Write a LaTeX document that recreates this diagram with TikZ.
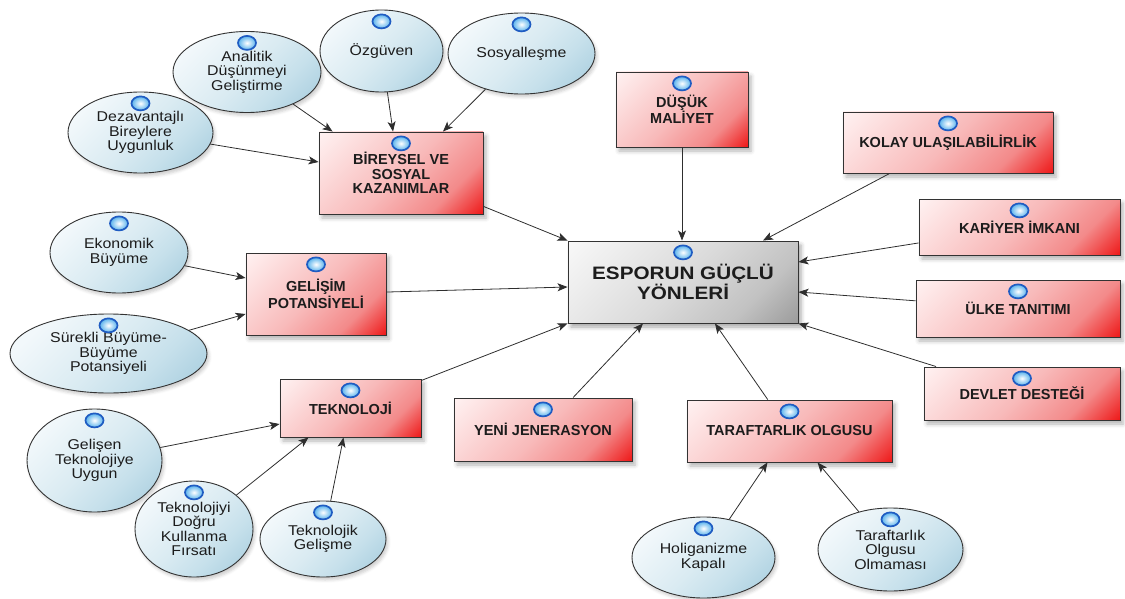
\documentclass[tikz,border=0pt]{standalone}
\usepackage{fontspec}
\setmainfont{Liberation Sans}
\newfontfamily\ovalfont[FakeStretch=1.12]{Liberation Sans}
\newfontfamily\hubfont[FakeStretch=1.15]{Liberation Sans}
\usetikzlibrary{arrows.meta, positioning, shapes.geometric, shadows.blur}
\definecolor{redA}{HTML}{FFF1F1}
\definecolor{redB}{HTML}{F8BABA}
\definecolor{redC}{HTML}{F38A8A}
\definecolor{redD}{HTML}{EE1414}
\definecolor{grayA}{HTML}{F8F8F8}
\definecolor{grayB}{HTML}{DADADA}
\definecolor{grayC}{HTML}{C2C2C2}
\definecolor{grayD}{HTML}{9A9A9A}
\definecolor{blueA}{HTML}{F2F8FB}
\definecolor{blueB}{HTML}{DAEBF2}
\definecolor{blueC}{HTML}{C6E0EB}
\definecolor{blueD}{HTML}{ACD0E0}
\definecolor{edgegray}{HTML}{333333}
\definecolor{linegray}{HTML}{2E2E2E}
\definecolor{bulbring}{HTML}{1F5CC2}
\definecolor{bulbfill}{HTML}{58B2EC}
\definecolor{textdark}{HTML}{1C1C1C}

\pgfdeclarehorizontalshading{boxred}{100bp}{color(0bp)=(redA); color(15bp)=(redA); color(50bp)=(redB); color(70bp)=(redC); color(86bp)=(redD); color(100bp)=(redD)}
\pgfdeclarehorizontalshading{boxgray}{100bp}{color(0bp)=(grayA); color(15bp)=(grayA); color(50bp)=(grayB); color(70bp)=(grayC); color(86bp)=(grayD); color(100bp)=(grayD)}
\pgfdeclarehorizontalshading{ovalblue}{100bp}{color(0bp)=(blueA); color(25bp)=(blueA); color(50bp)=(blueB); color(65bp)=(blueC); color(80bp)=(blueD); color(100bp)=(blueD)}

\begin{document}
\begin{tikzpicture}[
    x=1pt, y=-1pt,
    factor/.style n args={2}{draw=edgegray, line width=0.9pt, shading=boxred, shading angle=-45, minimum width=#1, minimum height=#2, inner sep=0pt, align=center, text=textdark, font=\bfseries\fontsize{14.5}{14.5}\selectfont, blur shadow={shadow xshift=3pt, shadow yshift=-4pt, shadow blur radius=4pt, shadow opacity=30}},
    hub/.style n args={2}{draw=edgegray, line width=0.9pt, shading=boxgray, shading angle=-45, minimum width=#1, minimum height=#2, inner sep=0pt, align=center, text=textdark, font=\hubfont\bfseries\fontsize{18}{19.5}\selectfont, blur shadow={shadow xshift=3pt, shadow yshift=-4pt, shadow blur radius=4pt, shadow opacity=35}},
    oval/.style n args={2}{ellipse, draw=edgegray, line width=0.9pt, shading=ovalblue, shading angle=-45, minimum width=#1, minimum height=#2, inner sep=0pt, align=center, text=textdark, font=\ovalfont\fontsize{14.2}{14.5}\selectfont, blur shadow={shadow xshift=2pt, shadow yshift=-3pt, shadow blur radius=3pt, shadow opacity=20}},
    bulb/.style={ellipse, minimum width=18pt, minimum height=14pt, inner sep=0pt, draw=bulbring, line width=1.7pt, inner color=white, outer color=bulbfill},
    arr/.style={-{Stealth[length=10pt, width=8pt, inset=2.5pt]}, draw=linegray, line width=0.8pt}
  ]
  \useasboundingbox (0,0) rectangle (1125,599);

  % centre
  \node[hub={230pt}{82pt}] (Main) at (683,282) {ESPORUN GÜÇLÜ\\YÖNLERİ};

  % boxes
  \node[factor={164pt}{82pt}] (Bireysel) at (401,173) {BİREYSEL VE\\SOSYAL\\KAZANIMLAR};
  \node[factor={140pt}{82pt}] (Gelisim) at (316,294) {GELİŞİM\\POTANSİYELİ};
  \node[factor={141pt}{58pt}] (Teknoloji) at (350.5,408) {TEKNOLOJİ};
  \node[factor={178pt}{63pt}] (Yeni) at (543,429.5) {YENİ JENERASYON};
  \node[factor={205pt}{62pt}] (Taraftar) at (789.5,431) {TARAFTARLIK OLGUSU};
  \node[factor={196pt}{53pt}] (Devlet) at (1022,393.5) {DEVLET DESTEĞİ};
  \node[factor={204pt}{57pt}] (Ulke) at (1018,308.5) {ÜLKE TANITIMI};
  \node[factor={201pt}{56pt}] (Kariyer) at (1019.5,227) {KARİYER İMKANI};
  \node[factor={210pt}{61pt}] (Kolay) at (948,142.5) {KOLAY ULAŞILABİLİRLİK};
  \node[factor={132pt}{75pt}] (Dusuk) at (682,109.5) {DÜŞÜK\\MALİYET};

  % ellipses
  \node[oval={148pt}{81pt}] (Analitik) at (247,72) {Analitik\\Düşünmeyi\\Geliştirme};
  \node[oval={123pt}{82pt}] (Ozguven) at (381.5,51) {Özgüven};
  \node[oval={147pt}{81pt}] (Sosyal) at (521.5,53.5) {Sosyalleşme};
  \node[oval={145pt}{81pt}] (Dezavantaj) at (140.5,132.5) {Dezavantajlı\\Bireylere\\Uygunluk};
  \node[oval={138pt}{81pt}] (Ekonomik) at (119,252.5) {Ekonomik\\Büyüme};
  \node[oval={197pt}{79pt}] (Surekli) at (108.5,353.5) {Sürekli Büyüme-\\Büyüme\\Potansiyeli};
  \node[oval={135pt}{103pt}] (Gelisen) at (94.5,460.5) {Gelişen\\Teknolojiye\\Uygun};
  \node[oval={118pt}{96pt}] (TekDogru) at (194,529) {Teknolojiyi\\Doğru\\Kullanma\\Fırsatı};
  \node[oval={126pt}{76pt}] (TekGelisme) at (323,539) {Teknolojik\\Gelişme};
  \node[oval={143pt}{81pt}] (Holigan) at (703.5,557.5) {Holiganizme\\Kapalı};
  \node[oval={145pt}{83pt}] (TarOlmama) at (890.5,549.5) {Taraftarlık\\Olgusu\\Olmaması};

  % connectors
  \draw[arr] (Analitik) -- ([xshift=14pt]Bireysel.north west);
  \draw[arr] (Ozguven) -- ([xshift=-8pt]Bireysel.north);
  \draw[arr] (Sosyal) -- ([xshift=42pt]Bireysel.north);
  \draw[arr] (Dezavantaj) -- ([yshift=11pt]Bireysel.west);
  \draw[arr] (Bireysel) -- (Main.north west);
  \draw[arr] (Ekonomik) -- ([yshift=16pt]Gelisim.west);
  \draw[arr] (Surekli) -- ([yshift=-20pt]Gelisim.west);
  \draw[arr] (Gelisim) -- ([yshift=-5pt]Main.west);
  \draw[arr] (Gelisen) -- ([yshift=-16pt]Teknoloji.west);
  \draw[arr] (TekDogru) -- ([xshift=-42pt]Teknoloji.south);
  \draw[arr] (TekGelisme) -- ([xshift=-7pt]Teknoloji.south);
  \draw[arr] (Teknoloji) -- (Main.south west);
  \draw[arr] (Yeni) -- ([xshift=-40pt]Main.south);
  \draw[arr] (Holigan) -- ([xshift=-22pt]Taraftar.south);
  \draw[arr] (TarOlmama) -- ([xshift=28pt]Taraftar.south);
  \draw[arr] (Taraftar) -- ([xshift=32pt]Main.south);
  \draw[arr] (Devlet) -- (Main.south east);
  \draw[arr] (Ulke) -- ([yshift=-10pt]Main.east);
  \draw[arr] (Kariyer) -- ([yshift=20pt]Main.east);
  \draw[arr] (Kolay) -- ([xshift=80pt]Main.north);
  \draw[arr] (Dusuk) -- (Main.north -| Dusuk);

  % bulbs
  \foreach \n in {Main, Bireysel, Gelisim, Teknoloji, Yeni, Taraftar, Devlet, Ulke, Kariyer, Kolay, Dusuk,
      Analitik, Ozguven, Sosyal, Dezavantaj, Ekonomik, Surekli, Gelisen, TekDogru, TekGelisme, Holigan, TarOlmama}
    \node[bulb, below=4pt of \n.north] (b\n) {};
\end{tikzpicture}
\end{document}
